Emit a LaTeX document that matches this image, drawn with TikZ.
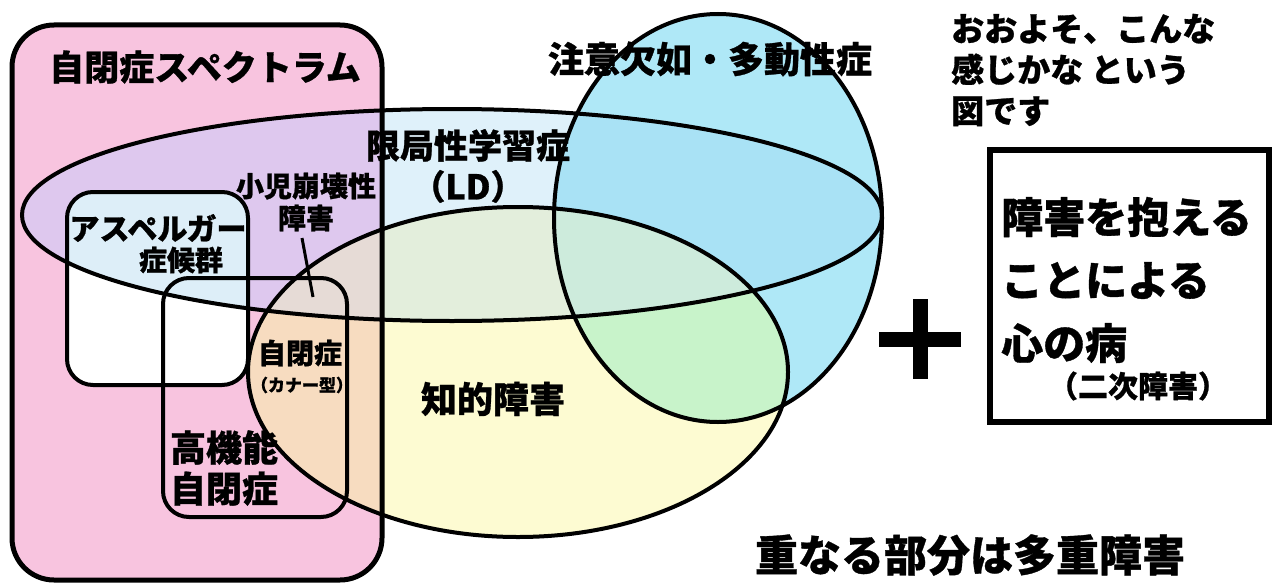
\documentclass[tikz,border=0pt]{standalone}
\usepackage{fontspec}
\newfontfamily\jp{Noto Sans CJK JP}[BoldFeatures={FakeBold=0.8}]
\definecolor{cpink}{HTML}{F8C4DF}
\definecolor{clav}{HTML}{DEC8EE}
\definecolor{cld}{HTML}{DFF1FA}
\definecolor{cyel}{HTML}{FDFBD2}
\definecolor{cyld}{HTML}{E3EEDC}
\definecolor{cpeach}{HTML}{F7DCC0}
\definecolor{cpeachld}{HTML}{E6DBD6}
\definecolor{cadhd}{HTML}{AFE8F7}
\definecolor{cadhdld}{HTML}{A9E2F5}
\definecolor{cgreen}{HTML}{C8F3CA}
\definecolor{cgreenld}{HTML}{CDEBDC}
\definecolor{caspld}{HTML}{DDEEF8}
\begin{document}
\begin{tikzpicture}[x=1pt,y=-1pt,
  outline/.style={draw=black,line width=4pt},
  lbl/.style={inner sep=0pt,font=\jp\bfseries},
  pinkshape/.style={rounded corners=42pt},
  boxshape/.style={rounded corners=26pt}]
\useasboundingbox (0,0) rectangle (1276,586);
\fill[white] (0,0) rectangle (1276,586);
% pink spectrum box
\fill[cpink,pinkshape] (12,25) rectangle (382,580);
% LD ellipse
\fill[cld] (452,215) ellipse [x radius=430pt,y radius=106pt];
\begin{scope}
  \clip[pinkshape] (12,25) rectangle (382,580);
  \fill[clav] (452,215) ellipse [x radius=430pt,y radius=106pt];
\end{scope}
% intellectual disability ellipse
\fill[cyel] (518,372) ellipse [x radius=270pt,y radius=165pt];
\begin{scope}
  \clip (452,215) ellipse [x radius=430pt,y radius=106pt];
  \fill[cyld] (518,372) ellipse [x radius=270pt,y radius=165pt];
\end{scope}
\begin{scope}
  \clip[pinkshape] (12,25) rectangle (382,580);
  \fill[cpeach] (518,372) ellipse [x radius=270pt,y radius=165pt];
  \clip (452,215) ellipse [x radius=430pt,y radius=106pt];
  \fill[cpeachld] (518,372) ellipse [x radius=270pt,y radius=165pt];
\end{scope}
% ADHD ellipse
\fill[cadhd] (718,218) ellipse [x radius=164pt,y radius=204pt];
\begin{scope}
  \clip (452,215) ellipse [x radius=430pt,y radius=106pt];
  \fill[cadhdld] (718,218) ellipse [x radius=164pt,y radius=204pt];
\end{scope}
\begin{scope}
  \clip (518,372) ellipse [x radius=270pt,y radius=165pt];
  \fill[cgreen] (718,218) ellipse [x radius=164pt,y radius=204pt];
  \clip (452,215) ellipse [x radius=430pt,y radius=106pt];
  \fill[cgreenld] (718,218) ellipse [x radius=164pt,y radius=204pt];
\end{scope}
% Asperger box
\fill[white,boxshape] (67,192) rectangle (248,385);
\begin{scope}
  \clip (452,215) ellipse [x radius=430pt,y radius=106pt];
  \fill[caspld,boxshape] (67,192) rectangle (248,385);
\end{scope}
% outlines
\draw[outline,line width=5pt,pinkshape] (12,25) rectangle (382,580);
\draw[outline] (452,215) ellipse [x radius=430pt,y radius=106pt];
\draw[outline] (518,372) ellipse [x radius=270pt,y radius=165pt];
\draw[outline] (718,218) ellipse [x radius=164pt,y radius=204pt];
\draw[outline,boxshape] (67,192) rectangle (248,385);
\draw[outline,boxshape] (163,278) rectangle (347,517);
\coordinate (p1) at (302,238);
\coordinate (p2) at (313,297);
\draw[black,line width=3pt] (p1) -- (p2);
% labels
\node[lbl,font=\jp\bfseries\fontsize{35}{40}\selectfont] (spec) at (205,67) {自閉症スペクトラム};
\node[lbl,font=\jp\bfseries\fontsize{36}{40}\selectfont] (adhd) at (710,59) {注意欠如・多動性症};
\node[lbl,align=center,font=\jp\bfseries\fontsize{34}{41}\selectfont] (ld) at (468,166) {限局性学習症\\（LD）};
\node[lbl,align=center,font=\jp\bfseries\fontsize{28}{32}\selectfont] (shoni) at (306,202) {小児崩壊性\\障害};
\node[lbl,font=\jp\bfseries\fontsize{30}{34}\selectfont] (asp1) at (158,228) {アスペルガー};
\node[lbl,font=\jp\bfseries\fontsize{28}{32}\selectfont] (asp2) at (181,260) {症候群};
\node[lbl,font=\jp\bfseries\fontsize{28}{32}\selectfont] (kan1) at (300,353) {自閉症};
\node[lbl,font=\jp\bfseries\fontsize{17}{20}\selectfont] (kan2) at (302,385) {（カナー型）};
\node[lbl,align=left,font=\jp\bfseries\fontsize{36}{41}\selectfont] (hfa) at (224,468) {高機能\\自閉症};
\node[lbl,font=\jp\bfseries\fontsize{36}{40}\selectfont] (chiteki) at (493,399) {知的障害};
\node[lbl,anchor=west,align=left,font=\jp\bfseries\fontsize{33}{41}\selectfont] (note) at (951,70) {おおよそ、こんな\\感じかな という\\図です};
% plus
\fill[black] (879,332) rectangle (961,347);
\fill[black] (913,299) rectangle (928,379);
% secondary box
\node[draw=black,line width=6pt,minimum width=279pt,minimum height=272pt,inner sep=0pt] (box) at (1129.5,286) {};
\node[lbl,anchor=west,align=left,font=\jp\bfseries\fontsize{42}{63}\selectfont] (boxtext) at (1001,280) {障害を抱える\\ことによる\\心の病};
\node[lbl,font=\jp\bfseries\fontsize{30}{34}\selectfont] (niji) at (1138,386) {（二次障害）};
\node[lbl,font=\jp\bfseries\fontsize{43}{48}\selectfont] (bottom) at (970,555) {重なる部分は多重障害};
\end{tikzpicture}
\end{document}
